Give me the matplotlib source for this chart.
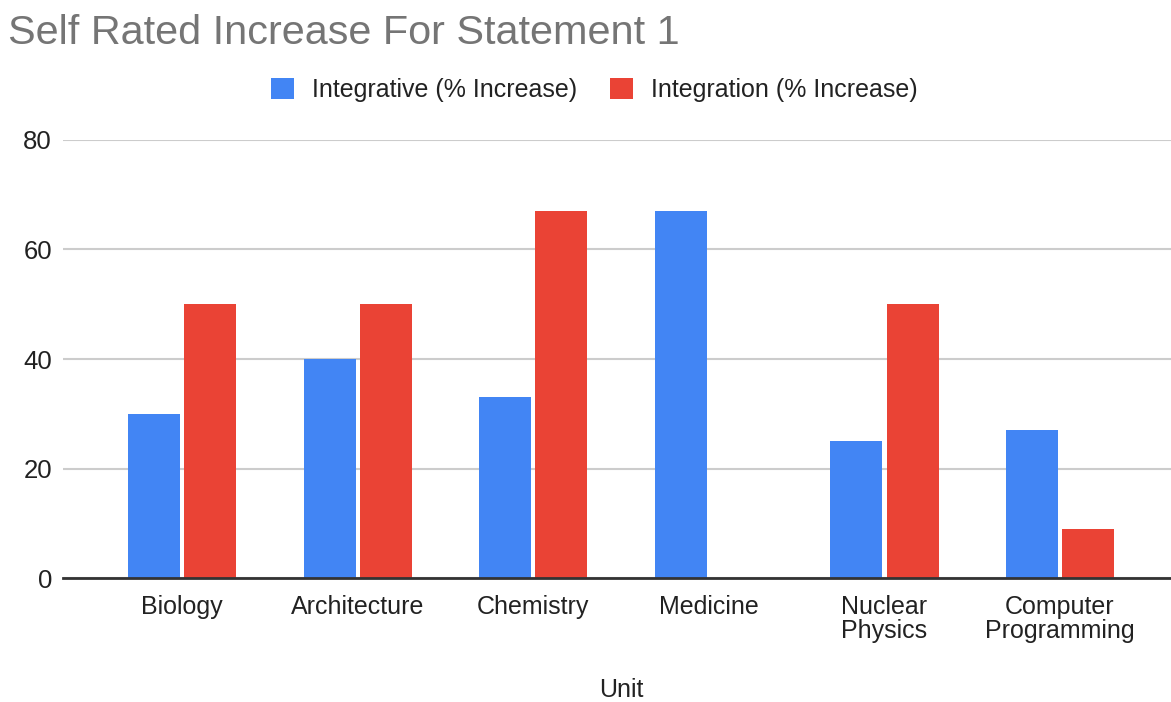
import matplotlib.pyplot as plt
from matplotlib.patches import Patch
import numpy as np

plt.rcParams['font.family'] = ['Liberation Sans', 'DejaVu Sans']

units = ["Biology", "Architecture", "Chemistry", "Medicine",
         "Nuclear\nPhysics", "Computer\nProgramming"]
integrative = [30, 40, 33, 67, 25, 27]
integration = [50, 50, 67, 0, 50, 9]

blue = "#4285F4"
red = "#EA4335"

fig = plt.figure(figsize=(11.71, 7.02), dpi=100)
ax = fig.add_axes([0.0538, 0.1766, 0.9462, 0.624])

x = np.arange(len(units))
w = 0.296
off = 0.16
ax.bar(x - off, integrative, width=w, color=blue, zorder=3)
ax.bar(x + off, integration, width=w, color=red, zorder=3)

ax.set_xlim(-0.678, 5.632)
ax.set_ylim(0, 80)
ax.set_yticks([0, 20, 40, 60, 80])
ax.yaxis.grid(True, color="#cccccc", linewidth=1.5, zorder=0)
ax.set_axisbelow(True)

for s in ["top", "right", "left"]:
    ax.spines[s].set_visible(False)
ax.spines["bottom"].set_color("#333333")
ax.spines["bottom"].set_linewidth(2)
ax.spines["bottom"].set_zorder(4)

ax.set_xticks(x)
ax.set_xticklabels(units, fontsize=18, color="#222222", linespacing=1.0)
ax.tick_params(axis="x", length=0, pad=12)
ax.tick_params(axis="y", length=0, pad=8, labelsize=18.5, labelcolor="#222222")

fig.text(621 / 1171, 1 - 690 / 702, "Unit", fontsize=18, color="#222222",
         ha="center", va="center")

fig.text(8 / 1171, 1 - 33 / 702, "Self Rated Increase For Statement 1",
         fontsize=29.8, color="#757575", ha="left", va="center")

handles = [Patch(facecolor=blue, edgecolor="none", label="Integrative (% Increase)"),
           Patch(facecolor=red, edgecolor="none", label="Integration (% Increase)")]
fig.legend(handles=handles, loc="center", bbox_to_anchor=(594 / 1171, 1 - 90 / 702),
           ncol=2, frameon=False, fontsize=18, handlelength=0.95, handleheight=0.95,
           handletextpad=0.7, columnspacing=1.3, labelcolor="#222222")

fig.savefig("out.png", dpi=100)
